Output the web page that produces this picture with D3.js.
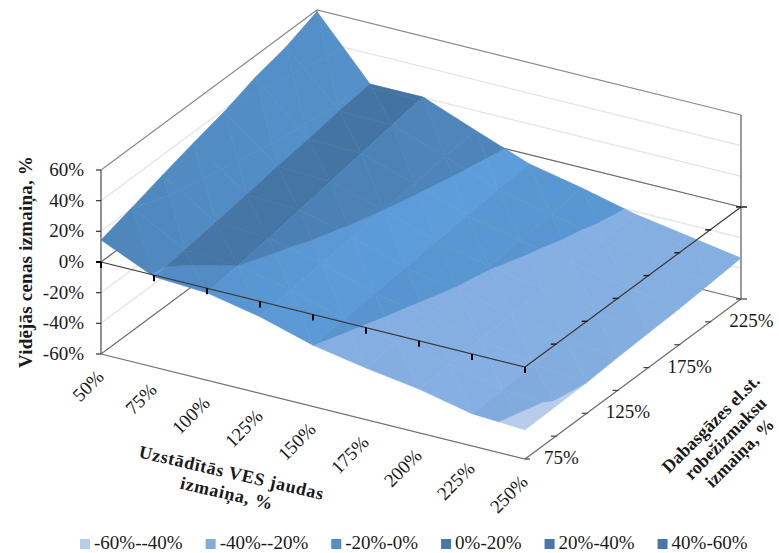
<!DOCTYPE html>
<html><head><meta charset="utf-8">
<script src="https://cdn.jsdelivr.net/npm/d3@7/dist/d3.min.js"></script>
<style>
html,body{margin:0;padding:0;background:#fff}
svg{display:block}
text{font-family:"Liberation Serif",serif;fill:#1a1a1a}
</style></head><body><svg id="c" width="779" height="553"></svg>
<script>
// Categories
const vesCapacity = [50,75,100,125,150,175,200,225,250];
const gasCost = [75,100,125,150,175,200,225,250];
const zTicks = [-60,-40,-20,0,20,40,60];
const vesLabels = ["50%","75%","100%","125%","150%","175%","200%","225%","250%"];
const gasLabels = ["75%","125%","175%","225%"];
const gasLabelValues = [75,125,175,225];
const bandNames = ["-60%--40%","-40%--20%","-20%-0%","0%-20%","20%-40%","40%-60%"];
const bandLimits = [-60,-40,-20,0,20,40,60];
const bandColors = ["#b8cdea","#83acde","#548ec6","#4678a8","#4678a8","#4678a8"];
// Price change (%), one list per gas cost level, read along VES capacity
const gas75  = [14.4,-1,-3,-10,-20,-26.3,-31.5,-39,-41];
const gas100 = [20.5,1.65,0,-7.5,-18,-24.5,-30,-38.5,-40.5];
const gas125 = [27,4.6,3,-5,-16,-22.7,-28.5,-36.5,-40];
const gas150 = [33,7.8,6.5,-2.5,-14,-20.8,-27.5,-34.5,-38.5];
const gas175 = [38.5,11.3,10,0,-12,-19.5,-26,-33,-37.5];
const gas200 = [46,14,13.5,2.5,-10,-17.5,-24.5,-31,-36.5];
const gas225 = [51,17.6,17,5,-8,-15.5,-23,-29,-35];
const gas250 = [59,20.3,20.4,7,-6,-13.3,-21.7,-27.5,-33.3];
const surface = [gas75,gas100,gas125,gas150,gas175,gas200,gas225,gas250];

const svg = d3.select("#c");
const origin = [101,354];
const xToX = d3.scaleLinear([50,250],[0,424]);
const xToY = d3.scaleLinear([50,250],[0,105]);
const yToX = d3.scaleLinear([75,250],[0,216]);
const yToY = d3.scaleLinear([75,250],[0,-160]);
const zToY = d3.scaleLinear([-60,60],[0,-184]);
const P = (x,y,z)=>[origin[0]+xToX(x)+yToX(y), origin[1]+xToY(x)+yToY(y)+zToY(z)];
const line = (pts,stroke,w)=>svg.append("path").attr("d",d3.line()(pts)).attr("fill","none")
  .attr("stroke",stroke).attr("stroke-width",w);

const x0=50,x1=250,y0=75,y1=250;
// Gridlines on walls
zTicks.filter(z=>z>-60&&z<60).forEach(z=>line([P(x0,y0,z),P(x0,y1,z),P(x1,y1,z)],"#e3e3e3",1.2));
// Walls and floor back edges
line([P(x0,y0,60),P(x0,y1,60),P(x1,y1,60)],"#8a8a8a",1.2);
line([P(x0,y0,-60),P(x0,y1,-60),P(x1,y1,-60)],"#6e6e6e",1.2);
line([P(x0,y1,-60),P(x0,y1,60)],"#8a8a8a",1.2);
line([P(x1,y1,-60),P(x1,y1,60)],"#7a7a7a",1.5);
// Back part of the zero plane
line([P(x0,y0,0),P(x0,y1,0),P(x1,y1,0)],"#6a6a6a",1.2);

// Surface
const shade = d3.scaleLinear([0,8,15,30,40],[.96,1.07,1.12,1.19,1.2]).clamp(true);
function clip(tri,lo,hi){
  const cut=(poly,lim,keepAbove)=>{
    const r=[];
    poly.forEach((a,k)=>{
      const b=poly[(k+1)%poly.length];
      const ia=keepAbove? a[2]>=lim : a[2]<=lim;
      const ib=keepAbove? b[2]>=lim : b[2]<=lim;
      if(ia) r.push(a);
      if(ia!==ib){
        const t=(lim-a[2])/(b[2]-a[2]);
        r.push([a[0]+t*(b[0]-a[0]),a[1]+t*(b[1]-a[1]),lim]);
      }
    });
    return r;
  };
  let out=cut(tri,lo,true);
  if(out.length) out=cut(out,hi,false);
  return out;
}
const surfG=svg.append("g");
function drawTri(tri,slope){
  d3.range(bandNames.length).forEach(b=>{
    const poly=clip(tri,bandLimits[b],bandLimits[b+1]);
    if(poly.length<3) return;
    const c=d3.rgb(bandColors[b]);
    let s=shade(Math.abs(slope));
    if(b<2) s=1+(s-1)*.35;
    const col=d3.rgb(Math.min(255,c.r*s),Math.min(255,c.g*s),Math.min(255,c.b*s)).formatHex();
    surfG.append("path").attr("d",d3.line()(poly.map(p=>P(p[0],p[1],p[2])))+"Z")
      .attr("fill",col).attr("stroke",col).attr("stroke-width",.6).attr("stroke-linejoin","round");
  });
}
for(let j=gasCost.length-2;j>=0;j--){
  for(let i=0;i<vesCapacity.length-1;i++){
    const X0=vesCapacity[i],X1=vesCapacity[i+1],Y0=gasCost[j],Y1=gasCost[j+1];
    const a=surface[j][i],b=surface[j][i+1],c=surface[j+1][i],d=surface[j+1][i+1];
    drawTri([[X1,Y1,d],[X0,Y1,c],[X1,Y0,b]],d-c);
    drawTri([[X0,Y0,a],[X1,Y0,b],[X0,Y1,c]],b-a);
  }
}

// Front floor edges and left axis
line([P(x0,y0,-60),P(x1,y0,-60),P(x1,y1,-60)],"#6e6e6e",1.2);
line([P(x0,y0,-60),P(x0,y0,60)],"#6e6e6e",1.5);
// Front zero-plane edges
line([P(x0,y0,0),P(x1,y0,0),P(x1,y1,0)],"#3a3a3a",1.2);

// Ticks
vesCapacity.forEach(v=>{const p=P(v,y0,0);line([p,[p[0],p[1]+6]],"#000",2);});
gasCost.forEach(v=>{
  const p=P(x1,v,0); if(v>75) line([[p[0]-5,p[1]],[p[0]+(v==250?6:1),p[1]]],"#222",1.5);
  const f=P(x1,v,-60);
  if(v>75) line([[f[0]-5,f[1]],[f[0]+(v==250?6:1),f[1]]],"#444",1.2);
  else line([f,[f[0]+5,f[1]]],"#444",1.2);
});
zTicks.forEach(z=>{
  const p=P(x0,y0,z); line([[p[0]-5,p[1]],p],z==0?"#000":"#333",z==0?2:1.2);
  svg.append("text").attr("x",p[0]-17).attr("y",p[1]+6).attr("text-anchor","end")
    .attr("font-size",19).text(z+"%");
});
vesLabels.forEach((t,k)=>{
  const p=P(vesCapacity[k],y0,-60);
  svg.append("text").attr("transform",`translate(${p[0]+4},${p[1]+24}) rotate(-45)`)
    .attr("text-anchor","end").attr("font-size",19).text(t);
});
gasLabels.forEach((t,k)=>{
  const p=P(x1,gasLabelValues[k],-60);
  svg.append("text").attr("x",p[0]+19).attr("y",p[1]+5).attr("font-size",19).text(t);
});

// Axis titles
function title(cx,cy,rot,lines,size,ls,lh){
  const g=svg.append("g").attr("transform",`translate(${cx},${cy}) rotate(${rot})`);
  lines.forEach((t,k)=>g.append("text").attr("x",0).attr("y",(k-(lines.length-1)/2)*lh+5)
    .attr("text-anchor","middle").attr("font-weight","bold").attr("font-size",size)
    .attr("letter-spacing",ls).attr("fill","#000").text(t));
}
title(27,262,-90,["Vidējās cenas izmaiņa, %"],19,.2,20);
title(229,484,13,["Uzstādītās VES jaudas","izmaiņa, %"],18,.7,21);
title(726,439,-45,["Dabasgāzes el.st.","robežizmaksu","izmaiņa, %"],18,.1,20.5);

// Legend
let lx=80;
bandNames.forEach((t,k)=>{
  svg.append("rect").attr("x",lx).attr("y",539).attr("width",10).attr("height",10).attr("fill",bandColors[k]);
  const tx=svg.append("text").attr("x",lx+14).attr("y",549).attr("font-size",19).text(t);
  lx+=14+tx.node().getComputedTextLength()+23;
});
</script></body></html>
